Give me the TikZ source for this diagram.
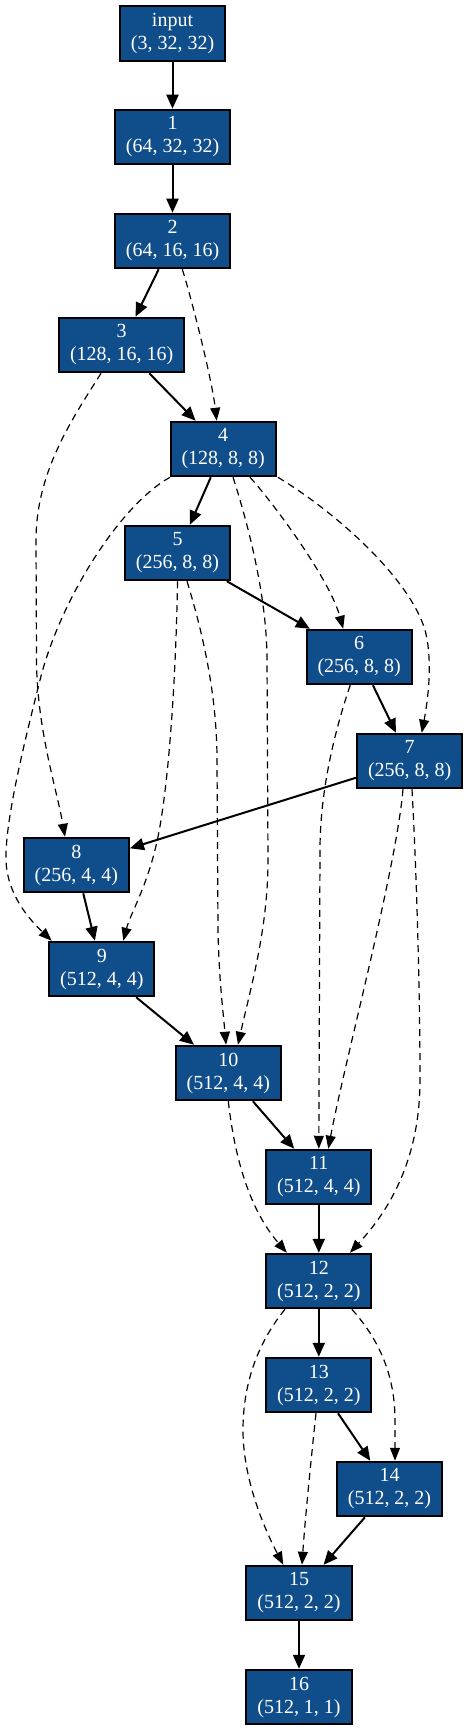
\documentclass[tikz,border=0pt]{standalone}
\usepackage{fontspec}
\setmainfont{Liberation Serif}
\usetikzlibrary{arrows.meta}
\definecolor{nodefill}{HTML}{104E8B}
\begin{document}
\begin{tikzpicture}[x=1pt,y=-1pt,
  box/.style={draw=black,line width=2pt,fill=nodefill,text=white,
    font=\fontsize{20}{23}\selectfont,align=center,
    minimum width=105.3pt,minimum height=54.5pt,inner xsep=11pt,inner ysep=0pt},
  solid edge/.style={line width=2pt,-{Triangle[length=14pt,width=12pt]}},
  skip edge/.style={line width=1.2pt,dash pattern=on 7pt off 5pt,
    -{Triangle[length=13pt,width=10pt]}}]
\useasboundingbox (0,0) rectangle (468,1731);

\node[box] (input) at (172.5,33.3) {input\\(3, 32, 32)};
\node[box] (n1) at (172.5,137) {1\\(64, 32, 32)};
\node[box] (n2) at (172.5,241) {2\\(64, 16, 16)};
\node[box] (n3) at (121.7,345) {3\\(128, 16, 16)};
\node[box] (n4) at (223.2,449) {4\\(128, 8, 8)};
\node[box] (n5) at (177.5,553) {5\\(256, 8, 8)};
\node[box] (n6) at (359.2,657) {6\\(256, 8, 8)};
\node[box] (n7) at (409.7,761) {7\\(256, 8, 8)};
\node[box] (n8) at (76.3,865) {8\\(256, 4, 4)};
\node[box] (n9) at (101.8,969) {9\\(512, 4, 4)};
\node[box] (n10) at (228.3,1073) {10\\(512, 4, 4)};
\node[box] (n11) at (318.8,1177) {11\\(512, 4, 4)};
\node[box] (n12) at (318.8,1281) {12\\(512, 2, 2)};
\node[box] (n13) at (318.8,1385) {13\\(512, 2, 2)};
\node[box] (n14) at (389.5,1489) {14\\(512, 2, 2)};
\node[box] (n15) at (299,1593) {15\\(512, 2, 2)};
\node[box] (n16) at (299,1697) {16\\(512, 1, 1)};

% main chain
\draw[solid edge] (input) -- (n1);
\draw[solid edge] (n1) -- (n2);
\draw[solid edge] (n2) -- (n3);
\draw[solid edge] (n3) -- (n4);
\draw[solid edge] (n4) -- (n5);
\draw[solid edge] (n5) -- (n6);
\draw[solid edge] (n6) -- (n7);
\draw[solid edge] (n7) -- (n8);
\draw[solid edge] (n8) -- (n9);
\draw[solid edge] (n9) -- (n10);
\draw[solid edge] (n10) -- (n11);
\draw[solid edge] (n11) -- (n12);
\draw[solid edge] (n12) -- (n13);
\draw[solid edge] (n13) -- (n14);
\draw[solid edge] (n14) -- (n15);
\draw[solid edge] (n15) -- (n16);

% skip connections
\draw[skip edge] ([xshift=9.8pt]n2.south) .. controls (192,300) and (212,380) .. ([xshift=-6.5pt]n4.north);
\draw[skip edge] ([xshift=-20.7pt]n3.south) .. controls (75,415) and (36,470) .. (36,540)
  -- (36.5,660) .. controls (37,730) and (57,790) .. ([xshift=-11.3pt]n8.north);
\draw[skip edge] ([xshift=0.5pt]n4.south west) .. controls (120,505) and (60,600) .. (40,680)
  .. controls (25,740) and (5,820) .. (6,860) .. controls (7,895) and (30,920) .. ([xshift=3.5pt]n9.north west);
\draw[skip edge] ([xshift=9.8pt]n4.south) .. controls (250,530) and (267,600) .. (267,660)
  -- (268,860) .. controls (268,930) and (250,990) .. ([xshift=9.7pt]n10.north);
\draw[skip edge] ([xshift=26.8pt]n4.south) .. controls (275,505) and (330,580) .. ([xshift=-16pt]n6.north);
\draw[skip edge] ([xshift=1pt]n4.south east) .. controls (340,515) and (410,580) .. (425,630)
  .. controls (433,660) and (428,700) .. ([xshift=12pt]n7.north);
\draw[skip edge] (n5.south) .. controls (176,680) and (168,800) .. (155,850)
  .. controls (145,890) and (130,915) .. ([xshift=21.5pt]n9.north);
\draw[skip edge] ([xshift=9.5pt]n5.south) .. controls (205,640) and (217,700) .. (217,760)
  -- (218,930) .. controls (219,980) and (223,1010) .. ([xshift=-2.3pt]n10.north);
\draw[skip edge] ([xshift=-9pt]n6.south) .. controls (335,730) and (320,790) .. (320,850)
  -- (n11.north);
\draw[skip edge] ([xshift=-6.7pt]n7.south) .. controls (396,870) and (345,1060) .. ([xshift=9.5pt]n11.north);
\draw[skip edge] ([xshift=2.3pt]n7.south) .. controls (417,880) and (420,1000) .. (420,1080)
  .. controls (420,1170) and (380,1220) .. ([xshift=31.2pt]n12.north);
\draw[skip edge] (n10.south) .. controls (235,1160) and (250,1210) .. ([xshift=-32pt]n12.north);
\draw[skip edge] ([xshift=33pt]n12.south) .. controls (375,1335) and (395,1370) .. (395,1420)
  -- ([xshift=5.5pt]n14.north);
\draw[skip edge] ([xshift=-33.8pt]n12.south) .. controls (260,1340) and (243,1380) .. (243,1430)
  .. controls (243,1480) and (265,1530) .. ([xshift=-15.7pt]n15.north);
\draw[skip edge] ([xshift=-2.8pt]n13.south) .. controls (311,1460) and (305,1520) .. ([xshift=3pt]n15.north);
\end{tikzpicture}
\end{document}
